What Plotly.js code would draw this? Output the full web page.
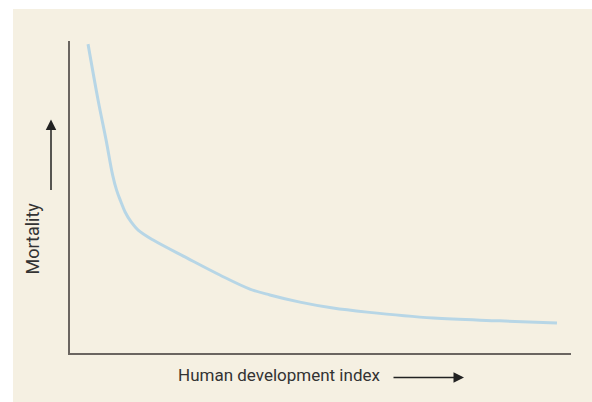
<!DOCTYPE html>
<html>
<head>
<meta charset="utf-8">
<script src="https://cdn.plot.ly/plotly-3.0.1.min.js"></script>
<style>html,body{margin:0;padding:0;background:#fff;}#chart{width:592px;height:402px;}</style>
</head>
<body>
<div id="chart"></div>
<script>
// Human development index (0..1 across the axis) vs. mortality (relative, 0..100)
const hdi = [0.036, 0.056, 0.072, 0.085, 0.093, 0.101, 0.110, 0.122, 0.136, 0.166, 0.234, 0.299, 0.359, 0.399, 0.459, 0.525, 0.593, 0.725, 0.858, 0.972];
const mortality = [99.0, 81.1, 68.3, 57.1, 52.2, 48.7, 45.2, 42.0, 39.4, 36.2, 30.4, 25.0, 20.5, 18.6, 16.3, 14.4, 13.1, 11.2, 10.3, 9.6];
const xLabel = "Human development index";
const yLabel = "Mortality";

const FONT = '"Liberation Sans Narrow", "Arial Narrow", "Roboto", sans-serif';

const trace = {
  x: hdi, y: mortality, type: 'scatter', mode: 'lines',
  line: {color: '#b7d6e6', width: 3, shape: 'spline', smoothing: 1},
  hoverinfo: 'skip'
};

const axisCommon = {
  showline: true, linecolor: '#6a6560', linewidth: 2,
  showgrid: false, zeroline: false, showticklabels: false, ticks: '', fixedrange: true
};

const layout = {
  width: 592, height: 402,
  margin: {l: 70, r: 21, t: 41, b: 49},
  paper_bgcolor: '#ffffff',
  plot_bgcolor: 'rgba(0,0,0,0)',
  showlegend: false,
  xaxis: Object.assign({range: [0, 1]}, axisCommon),
  yaxis: Object.assign({range: [0, 100]}, axisCommon),
  shapes: [{
    type: 'rect', xref: 'paper', yref: 'paper', layer: 'below',
    x0: -0.1138, x1: 1.05, y0: -0.17, y1: 1.1026,
    fillcolor: '#f5f0e2', line: {width: 0}
  }],
  annotations: [
    {xref: 'paper', yref: 'paper', x: 0.418, y: -0.0705, text: xLabel, showarrow: false,
     font: {family: FONT, size: 17, color: '#333333'}, xanchor: 'center', yanchor: 'middle'},
    {xref: 'paper', yref: 'paper', x: -0.0758, y: 0.367, text: yLabel, showarrow: false, textangle: -90,
     font: {family: FONT, size: 18, color: '#333333'}, xanchor: 'center', yanchor: 'middle'},
    {xref: 'paper', yref: 'paper', x: (464 - 70) / 501, y: (353 - 377.5) / 312, text: '',
     showarrow: true, ax: -72, ay: 0, arrowhead: 2, arrowsize: 1.4, arrowwidth: 1.5, arrowcolor: '#222222', standoff: 0},
    {xref: 'paper', yref: 'paper', x: (51 - 70) / 501, y: (353 - 119.5) / 312, text: '',
     showarrow: true, ax: 0, ay: 72, arrowhead: 2, arrowsize: 1.4, arrowwidth: 1.5, arrowcolor: '#222222', standoff: 0}
  ]
};

Plotly.newPlot('chart', [trace], layout, {displayModeBar: false, staticPlot: true});
</script>
</body>
</html>
